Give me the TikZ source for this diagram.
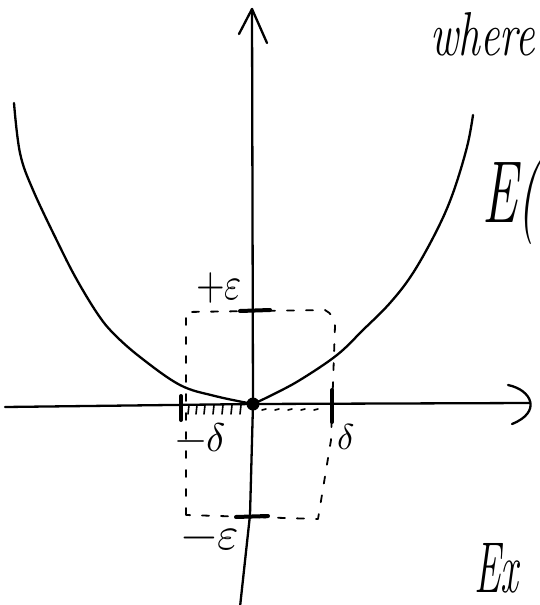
\documentclass[tikz,border=0pt]{standalone}
\usepackage{unicode-math}
\usetikzlibrary{calc}
\begin{document}
\begin{tikzpicture}[x=1pt,y=-1pt, line cap=round, line join=round,
  ink/.style={line width=2.3pt},
  tickmark/.style={line width=4pt},
  dashbox/.style={line width=1.8pt, dash pattern=on 7pt off 12pt},
  hatch/.style={line width=1.6pt},
  lbl/.style={inner sep=0pt, font=\fontsize{46}{46}\selectfont},
  hand/.style={inner sep=0pt, anchor=base west}]
\useasboundingbox (0,0) rectangle (539,605);
\clip (0,0) rectangle (539,605);
% axes
\coordinate (O) at (253,404);
\coordinate (ytop) at (252,9);
\coordinate (ybot) at (240,607);
\coordinate (ymid) at (250,515);
\coordinate (yarmL) at (239,34);
\coordinate (yarmR) at (267,43);
\coordinate (xl) at (5,407);
\coordinate (xr) at (530,403);
\coordinate (xarmA) at (508,385);
\coordinate (xarmB) at (512,424);
\draw[ink] (ybot) -- (ymid) -- (O) -- (ytop);
\draw[ink] (yarmL) -- (ytop) -- (yarmR);
\draw[ink] (xl) -- (O) -- (xr);
\draw[ink] (xarmA) .. controls (532,390) and (542,412) .. (xarmB);
% parabola
\draw[ink] plot[smooth, tension=0.6] coordinates {(14,103) (20,153) (33,190) (60,247) (77,280) (97,313) (113,333) (140,357) (180,385) (215,396) (253,404)};
\draw[ink] plot[smooth, tension=0.6] coordinates {(253,404) (272,395) (300,380) (337,355) (363,330) (390,303) (413,273) (437,230) (453,193) (467,147) (473,115)};
\fill (O) circle (6.5);
% dashed box
\coordinate (bl) at (186,515);
\coordinate (tl) at (186,312);
\coordinate (tr) at (325,310);
\coordinate (trb) at (335,326);
\coordinate (rm) at (331,440);
\coordinate (br) at (318,519);
\draw[dashbox] (bl) -- (tl) -- (tr) to[bend left=30] (trb) -- (rm) -- (br) -- cycle;
% ticks
\draw[tickmark] (240,311) -- (270,310);
\draw[tickmark] (236,517) -- (268,516);
\draw[tickmark] (181,396) -- (181,420);
\draw[tickmark] (332,390) -- (332,422);
% hatching
\foreach \hx in {189,197,205,214,223,232,241}
  \draw[hatch] (\hx,405) -- (\hx-1,414);
\foreach \hx in {262,275,288,301,314}
  \draw[hatch] (\hx,410) -- (\hx+4,409);
% labels
\node[lbl] (peps) at (219,288) {\scalebox{0.8}[1]{$+\varepsilon$}};
\node[lbl] (meps) at (210,540) {$-\varepsilon$};
\node[lbl, font=\fontsize{40}{40}\selectfont] (mdel) at (201,437) {$-\delta$};
\node[lbl, font=\fontsize{36}{36}\selectfont] (del) at (346,437) {$\delta$};
% texts at the right edge
\node[hand, font=\fontsize{62}{62}\selectfont\itshape] (where) at (430,55) {\scalebox{0.7}[1]{where}};
\node[hand, font=\fontsize{88}{88}\selectfont\itshape] (Epar) at (482,222) {\scalebox{0.6}[1]{E(}};
\node[hand, font=\fontsize{72}{72}\selectfont\itshape] (Ex) at (474,592) {\scalebox{0.55}[1]{Ex}};
\end{tikzpicture}
\end{document}
